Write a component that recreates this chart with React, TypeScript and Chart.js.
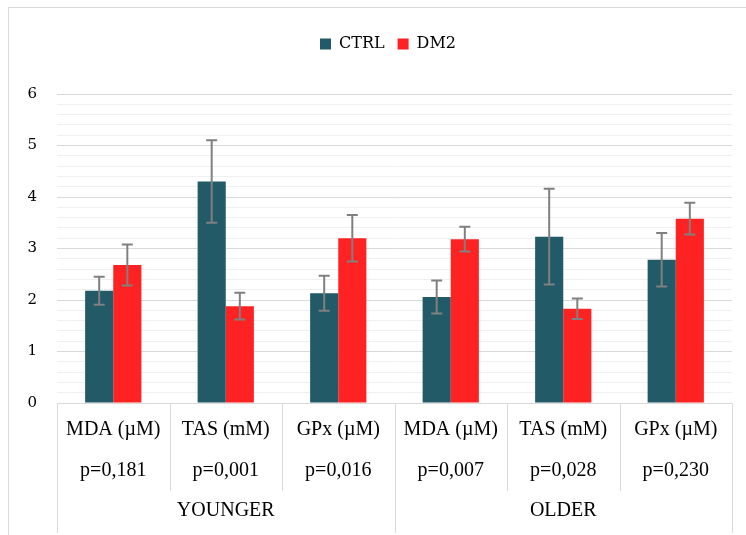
import React, { useEffect, useRef } from "react";
import { Chart, registerables } from "chart.js";

Chart.register(...registerables);

const categories = ["MDA (µM)", "TAS (mM)", "GPx (µM)", "MDA (µM)", "TAS (mM)", "GPx (µM)"];
const pValues = ["p=0,181", "p=0,001", "p=0,016", "p=0,007", "p=0,028", "p=0,230"];
const groups = ["YOUNGER", "OLDER"];
const ctrlValues = [2.18, 4.3, 2.13, 2.06, 3.23, 2.78];
const ctrlErrors = [0.27, 0.8, 0.34, 0.32, 0.93, 0.52];
const dm2Values = [2.68, 1.88, 3.2, 3.18, 1.83, 3.58];
const dm2Errors = [0.4, 0.26, 0.45, 0.24, 0.2, 0.31];
const yTicksMax = 6;

const FONT = "'Liberation Serif', 'Times New Roman', serif";
const FONT2 = "'DejaVu Serif', serif";

const errorBarPlugin = {
  id: "errorBars",
  afterDatasetsDraw(chart: any) {
    const ctx = chart.ctx;
    const y = chart.scales.y;
    chart.data.datasets.forEach((ds: any, i: number) => {
      const meta = chart.getDatasetMeta(i);
      meta.data.forEach((bar: any, j: number) => {
        const v = ds.data[j];
        const e = ds.errors[j];
        const top = y.getPixelForValue(v + e);
        const bot = y.getPixelForValue(v - e);
        ctx.save();
        ctx.strokeStyle = "#808080";
        ctx.lineWidth = 2;
        ctx.beginPath();
        ctx.moveTo(bar.x, top);
        ctx.lineTo(bar.x, bot);
        ctx.moveTo(bar.x - 5.5, top);
        ctx.lineTo(bar.x + 5.5, top);
        ctx.moveTo(bar.x - 5.5, bot);
        ctx.lineTo(bar.x + 5.5, bot);
        ctx.stroke();
        ctx.restore();
      });
    });
  },
};

const xLabelPlugin = {
  id: "xLabels",
  afterDraw(chart: any) {
    const ctx = chart.ctx;
    const x = chart.scales.x;
    const base = chart.chartArea.bottom;
    const n = categories.length;
    ctx.save();
    ctx.strokeStyle = "#d9d9d9";
    ctx.lineWidth = 1;
    for (let j = 0; j <= n; j++) {
      const px = Math.round(x.getPixelForValue(j - 0.5)) + 0.5;
      const outer = j === 0 || j === n || j === n / 2;
      ctx.beginPath();
      ctx.moveTo(px, base);
      ctx.lineTo(px, base + (outer ? 130 : 88));
      ctx.stroke();
    }
    ctx.fillStyle = "#000";
    ctx.font = `20px ${FONT}`;
    ctx.textAlign = "center";
    ctx.textBaseline = "middle";
    for (let j = 0; j < n; j++) {
      const cx = x.getPixelForValue(j);
      ctx.fillText(categories[j], cx, base + 27);
      ctx.fillText(pValues[j], cx, base + 68);
    }
    const per = n / groups.length;
    groups.forEach((g, k) => {
      const cx = x.getPixelForValue(k * per + (per - 1) / 2);
      ctx.fillText(g, cx, base + 108);
    });
    ctx.restore();
  },
};

const legendGapPlugin = {
  id: "legendGap",
  afterInit(chart: any) {
    const legend = chart.legend;
    if (!legend) return;
    const orig = legend.fit;
    legend.fit = function () {
      orig.call(this);
      this.height += 32;
      if (this.lineWidths && this.lineWidths.length) this.lineWidths[0] -= 35;
    };
  },
};

export default function App() {
  const ref = useRef<HTMLCanvasElement>(null);
  useEffect(() => {
    if (!ref.current) return;
    const chart = new Chart(ref.current, {
      type: "bar",
      data: {
        labels: categories,
        datasets: [
          {
            label: "CTRL",
            data: ctrlValues,
            errors: ctrlErrors,
            backgroundColor: "#235A68",
            barPercentage: 1,
            categoryPercentage: 0.5,
          } as any,
          {
            label: "DM2",
            data: dm2Values,
            errors: dm2Errors,
            backgroundColor: "#FF2222",
            barPercentage: 1,
            categoryPercentage: 0.5,
          } as any,
        ],
      },
      options: {
        animation: false,
        responsive: false,
        devicePixelRatio: 1,
        layout: { padding: { top: 15, left: 0, right: 14, bottom: 0 } },
        plugins: {
          legend: {
            position: "top",
            labels: {
              boxWidth: 11,
              boxHeight: 11,
              padding: 13,
              color: "#000",
              font: { family: FONT2, size: 16 },
            },
          },
          tooltip: { enabled: false },
        },
        scales: {
          x: {
            grid: { display: false },
            border: { display: true, color: "#d9d9d9" },
            ticks: { display: false },
            afterFit(scale: any) {
              scale.height = 132;
            },
          },
          y: {
            min: 0,
            max: yTicksMax,
            border: { display: false },
            grid: {
              drawTicks: false,
              color: (c: any) => {
                const v = c.tick ? c.tick.value : 0;
                return Math.abs(v - Math.round(v)) < 1e-6 ? "#d9d9d9" : "#f0f0f0";
              },
            },
            ticks: {
              stepSize: 0.2,
              autoSkip: false,
              padding: 20,
              color: "#000",
              font: { family: FONT2, size: 15 },
              callback: (v: any) =>
                Math.abs(v - Math.round(v)) < 1e-6 ? String(Math.round(v)) : "",
            },
            afterFit(scale: any) {
              scale.width = 48;
            },
          },
        },
      },
      plugins: [errorBarPlugin, xLabelPlugin, legendGapPlugin],
    } as any);
    return () => chart.destroy();
  }, []);
  return (
    <div
      style={{
        position: "absolute",
        left: 8,
        top: 7,
        borderTop: "1px solid #d9d9d9",
        borderLeft: "1px solid #d9d9d9",
        width: 737,
        height: 527,
        boxSizing: "content-box",
        overflow: "hidden",
      }}
    >
      <canvas ref={ref} width={737} height={527} style={{ display: "block" }} />
    </div>
  );
}
